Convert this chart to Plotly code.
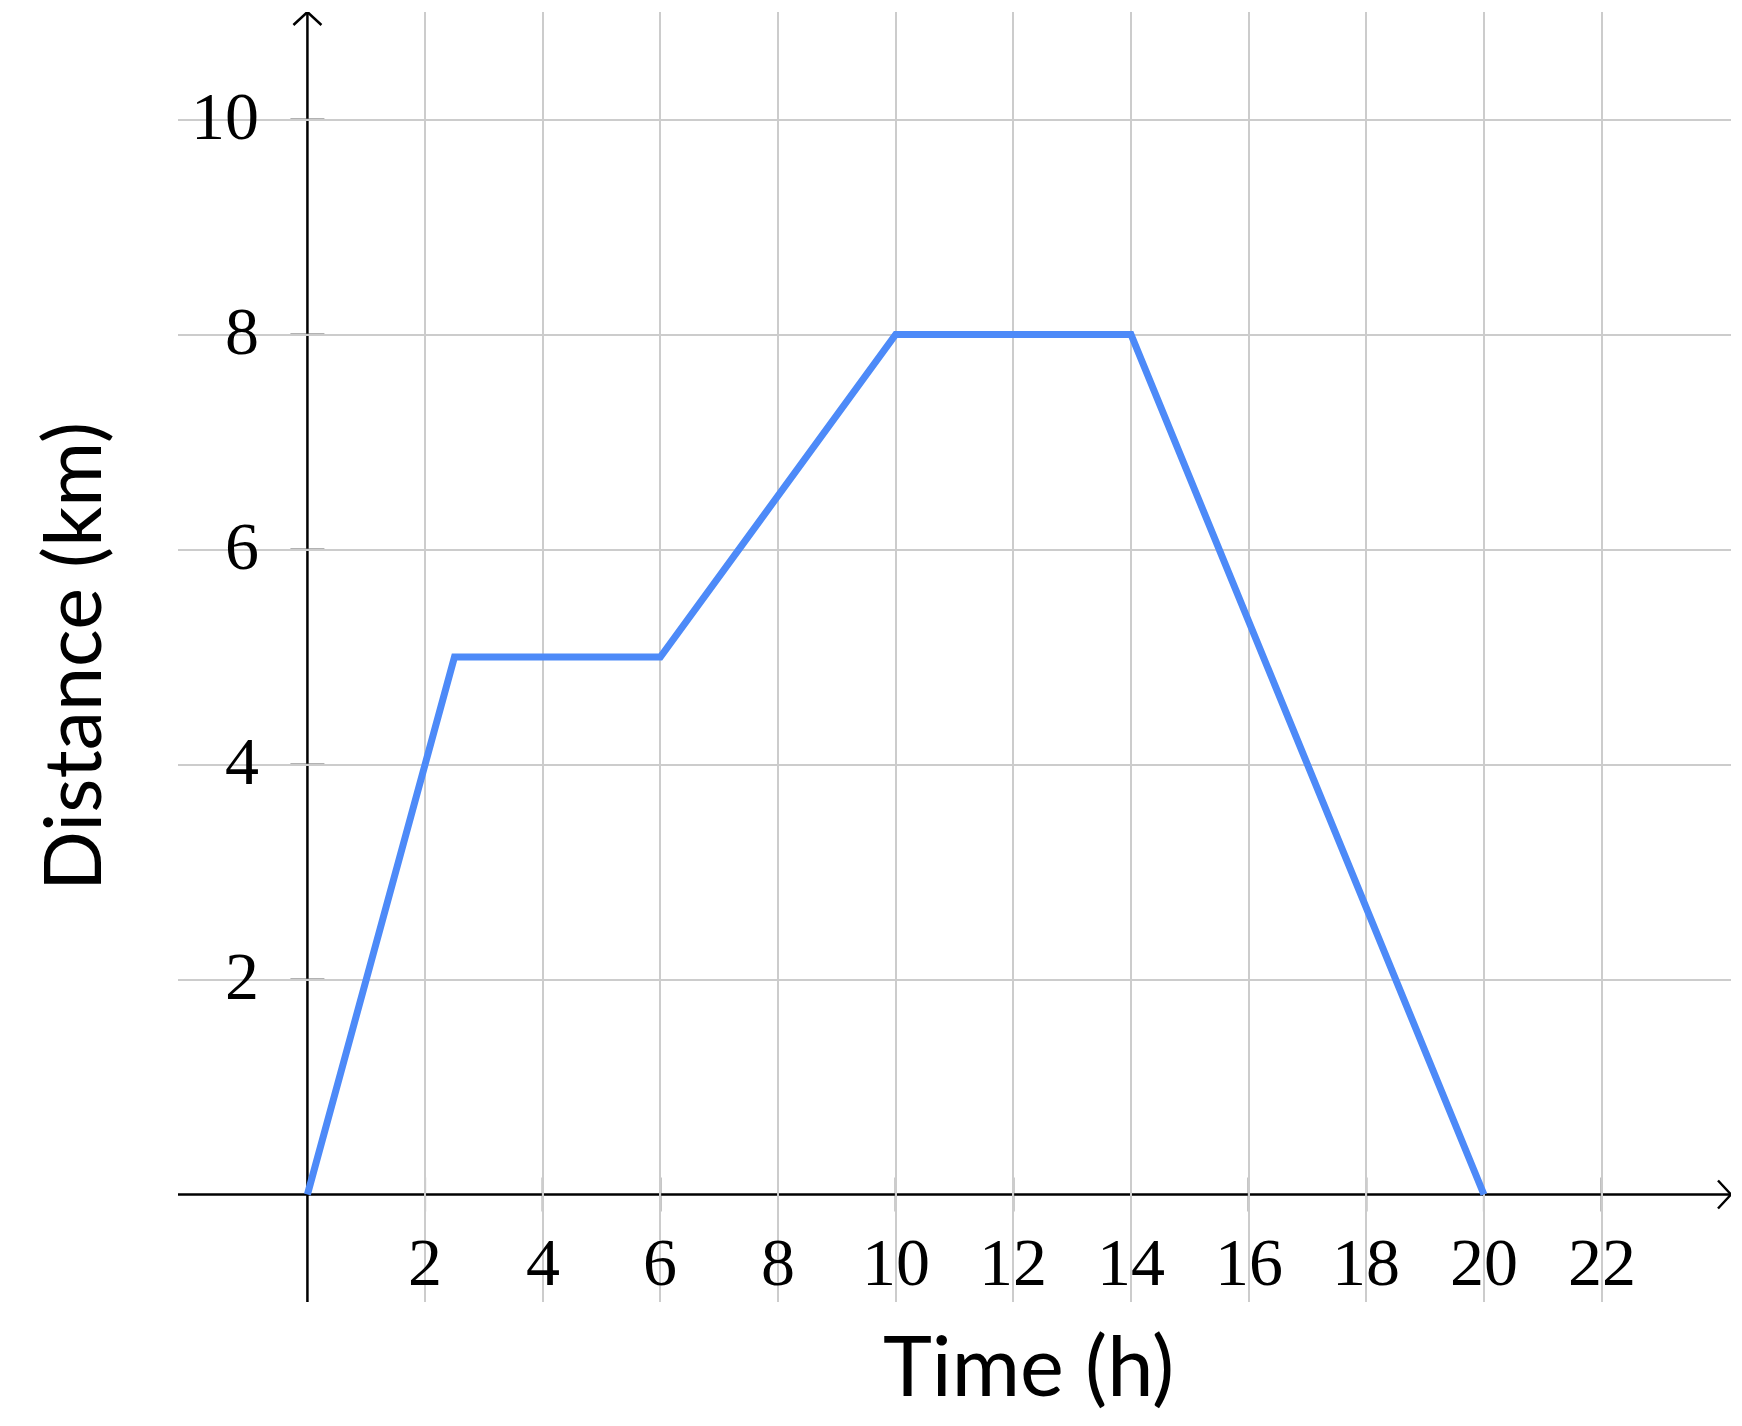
import plotly.graph_objects as go

# Data
time_h = [0, 2.5, 6, 10, 14, 20]
distance_km = [0, 5, 5, 8, 8, 0]
x_ticks = [2, 4, 6, 8, 10, 12, 14, 16, 18, 20, 22]
y_ticks = [2, 4, 6, 8, 10]
x_range = [-2.2, 24.2]
y_range = [-1, 11]

# page body has an 8px margin, so the figure is offset by 8px
W, H = 1734, 1418
ML, MR, MT, MB = 170, 11, 4, 124

fig = go.Figure()
fig.add_trace(go.Scatter(
    x=time_h, y=distance_km, mode="lines",
    line=dict(color="#4D8AF8", width=7), showlegend=False, hoverinfo="skip",
))

shapes = []
# axis lines
shapes.append(dict(type="line", xref="x", yref="y", x0=x_range[0], x1=x_range[1], y0=0, y1=0,
                   line=dict(color="black", width=2.5), layer="below"))
shapes.append(dict(type="line", xref="x", yref="y", x0=0, x1=0, y0=y_range[0], y1=y_range[1],
                   line=dict(color="black", width=2.5), layer="below"))
# arrow heads (open chevrons)
shapes.append(dict(type="path", xref="x", yref="y", xsizemode="pixel", ysizemode="pixel",
                   xanchor=0, yanchor=y_range[1], path="M -14,-13 L 0,0 L 14,-13",
                   line=dict(color="black", width=2.5)))
shapes.append(dict(type="path", xref="x", yref="y", xsizemode="pixel", ysizemode="pixel",
                   xanchor=x_range[1], yanchor=0, path="M -13,14 L 0,0 L -13,-14",
                   line=dict(color="black", width=2.5)))
# tick marks
for t in x_ticks:
    shapes.append(dict(type="line", xref="x", yref="y", ysizemode="pixel", yanchor=0,
                       x0=t, x1=t, y0=-17, y1=17, line=dict(color="#666666", width=2), layer="below"))
for t in y_ticks:
    shapes.append(dict(type="line", xref="x", yref="y", xsizemode="pixel", xanchor=0,
                       y0=t, y1=t, x0=-17, x1=17, line=dict(color="#666666", width=2), layer="below"))

annotations = []
tick_font = dict(family="Liberation Serif, DejaVu Serif, serif", size=68, color="black")
for t in x_ticks:
    annotations.append(dict(x=t, y=0, xref="x", yref="y", text=str(t), showarrow=False,
                            xanchor="center", yanchor="middle", yshift=-67, font=tick_font))
for t in y_ticks:
    annotations.append(dict(x=0, y=t, xref="x", yref="y", text=str(t), showarrow=False,
                            xanchor="right", yanchor="middle", xshift=-46, yshift=4, font=tick_font))
annotations.append(dict(x=(1020 - ML) / (W - ML - MR), y=0, xref="paper", yref="paper",
                        text="Time (h)", showarrow=False, xanchor="center", yanchor="middle",
                        yshift=-62, font=dict(family="Lato, Open Sans, sans-serif", size=83, color="black")))
annotations.append(dict(x=0, y=0.5, xref="paper", yref="paper", text="Distance (km)",
                        showarrow=False, textangle=-90, xanchor="center", yanchor="middle",
                        xshift=-108, font=dict(family="Lato, Open Sans, sans-serif", size=79, color="black")))

fig.update_layout(
    width=W, height=H,
    margin=dict(l=ML, r=MR, t=MT, b=MB, pad=0),
    paper_bgcolor="white", plot_bgcolor="white",
    xaxis=dict(range=x_range, tickvals=x_ticks, showticklabels=False, showgrid=True,
               gridcolor="#CCCCCC", gridwidth=2, zeroline=False, showline=False, ticks=""),
    yaxis=dict(range=y_range, tickvals=y_ticks, showticklabels=False, showgrid=True,
               gridcolor="#CCCCCC", gridwidth=2, zeroline=False, showline=False, ticks=""),
    shapes=shapes, annotations=annotations,
)

fig.write_html("out.html")
